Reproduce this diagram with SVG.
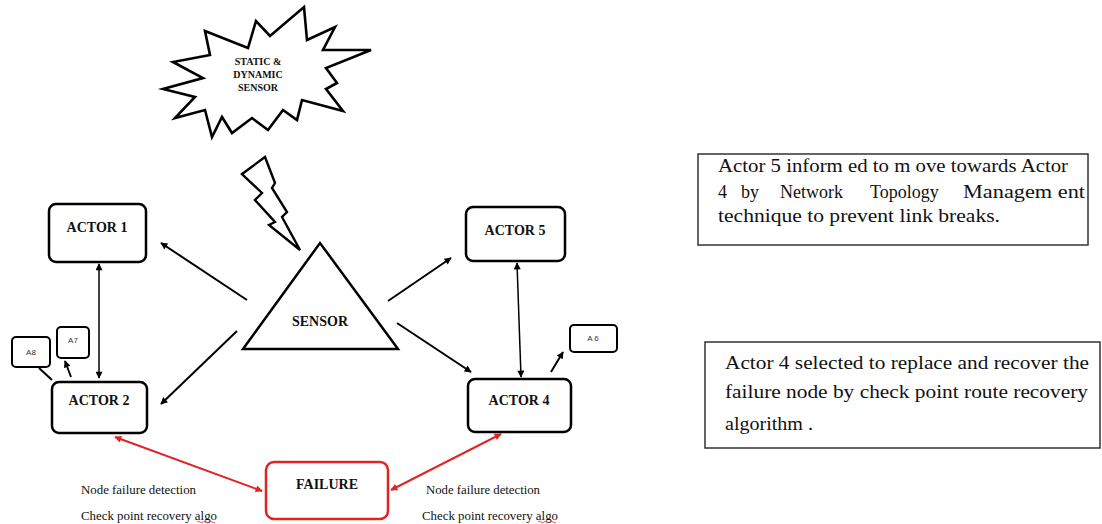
<svg xmlns="http://www.w3.org/2000/svg" width="1102" height="524" viewBox="0 0 1102 524">
<style>
.box{fill:#fff;stroke:#000;stroke-width:2.5}
.small{fill:#fff;stroke:#000;stroke-width:2}
.red{fill:#fff;stroke:#e02424;stroke-width:2.5}
.lbl{font-family:"Liberation Serif","Times New Roman",serif;font-weight:bold;font-size:14px;fill:#111;text-anchor:middle}
.tiny{font-family:"Liberation Sans",Arial,sans-serif;font-size:8px;fill:#333;text-anchor:middle}
.note{font-family:"Liberation Serif","Times New Roman",serif;font-size:12px;fill:#111}
.para{font-family:"Liberation Serif","Times New Roman",serif;fill:#111}
.tb{fill:#fff;stroke:#333;stroke-width:1.5}
.ln{stroke:#000;stroke-width:2;fill:none}
.ln2{stroke:#000;stroke-width:1.5;fill:none}
.rl{stroke:#e02424;stroke-width:2;fill:none}
</style>
<defs>
<marker id="ah" viewBox="0 0 10 10" refX="9" refY="5" markerWidth="8" markerHeight="7" markerUnits="userSpaceOnUse" orient="auto-start-reverse"><path d="M0,0 L10,5 L0,10 z" fill="#000"/></marker>
<marker id="rh" viewBox="0 0 10 10" refX="9" refY="5" markerWidth="9" markerHeight="7" markerUnits="userSpaceOnUse" orient="auto-start-reverse"><path d="M0,0 L10,5 L0,10 z" fill="#e02424"/></marker>
</defs>

<g id="static-dynamic-sensor">
<polygon fill="#fff" stroke="#000" stroke-width="2.6" stroke-linejoin="miter" points="205,31 248,48 256,21 270,36 304,7 307,40 335,27 323,50 371,50 326,68 337,83 326,89 343,111 302,100 297,120 283,110 268,130 252,118 232,133 222,117 212,137 205,110 175,118 195,97 163,89 203,78 173,62 210,55"/>
<text class="lbl" style="font-size:10px" x="258" y="65">STATIC &amp;</text>
<text class="lbl" style="font-size:10px" x="258" y="78">DYNAMIC</text>
<text class="lbl" style="font-size:10px" x="258" y="91">SENSOR</text>
</g>

<g id="lightning">
<polygon fill="#fff" stroke="#000" stroke-width="2.4" points="242,174 265,157 275,183 272,188 287,212 282,217 300,250 269,225 275,222 255,200 262,193"/>
</g>

<g id="sensor">
<polygon fill="#fff" stroke="#000" stroke-width="2.5" points="243,349 320,243 398,349"/>
<text class="lbl" x="320" y="326">SENSOR</text>
</g>

<g id="actor1"><rect class="box" x="49" y="204" width="97" height="58" rx="7"/><text class="lbl" x="97" y="232">ACTOR 1</text></g>
<g id="actor2"><rect class="box" x="52" y="382" width="95" height="51" rx="7"/><text class="lbl" x="99" y="405">ACTOR 2</text></g>
<g id="actor5"><rect class="box" x="466" y="207" width="99" height="54" rx="7"/><text class="lbl" x="515" y="235">ACTOR 5</text></g>
<g id="actor4"><rect class="box" x="468" y="379" width="103" height="53" rx="7"/><text class="lbl" x="519" y="405">ACTOR 4</text></g>
<g id="a8"><rect class="small" x="12" y="337" width="38" height="30" rx="4"/><text class="tiny" x="31" y="355">A8</text></g>
<g id="a7"><rect class="small" x="57" y="327" width="32" height="31" rx="4"/><text class="tiny" x="73" y="343">A7</text></g>
<g id="a6"><rect class="small" x="570" y="325" width="47" height="27" rx="4"/><text class="tiny" x="593" y="341">A 6</text></g>
<g id="failure"><rect class="red" x="266" y="462" width="122" height="57" rx="8"/><text class="lbl" x="327" y="489">FAILURE</text></g>

<g id="connectors">
<line class="ln" x1="247" y1="300" x2="161" y2="243" marker-end="url(#ah)"/>
<line class="ln" x1="237" y1="331" x2="161" y2="404" marker-end="url(#ah)"/>
<line class="ln" x1="388" y1="301" x2="451" y2="258" marker-end="url(#ah)"/>
<line class="ln" x1="397" y1="323" x2="471" y2="372" marker-end="url(#ah)"/>
<line class="ln2" x1="99" y1="264" x2="99" y2="378" marker-start="url(#ah)" marker-end="url(#ah)"/>
<line class="ln2" x1="517" y1="263" x2="521" y2="377" marker-start="url(#ah)" marker-end="url(#ah)"/>
<line class="ln" x1="71" y1="377" x2="65" y2="361" marker-end="url(#ah)"/>
<line class="ln" x1="39" y1="368" x2="52" y2="380"/>
<line class="ln" x1="551" y1="372" x2="563" y2="352" marker-end="url(#ah)"/>
<line class="rl" x1="115" y1="437" x2="262" y2="491" marker-start="url(#rh)" marker-end="url(#rh)"/>
<line class="rl" x1="391" y1="490" x2="501" y2="434" marker-start="url(#rh)" marker-end="url(#rh)"/>
</g>

<g id="notes">
<text class="note" x="81" y="494" textLength="115" lengthAdjust="spacingAndGlyphs">Node failure detection</text>
<text class="note" x="81" y="520" textLength="136" lengthAdjust="spacingAndGlyphs">Check point recovery algo</text>
<text class="note" x="426" y="494" textLength="114" lengthAdjust="spacingAndGlyphs">Node failure detection</text>
<text class="note" x="422" y="520" textLength="136" lengthAdjust="spacingAndGlyphs">Check point recovery algo</text>
<path d="M197,522 q1.5,-1.5 3,0 t3,0 t3,0 t3,0 t3,0 t3,0" stroke="#e02424" stroke-width="0.8" fill="none"/>
<path d="M538,522 q1.5,-1.5 3,0 t3,0 t3,0 t3,0 t3,0 t3,0" stroke="#e02424" stroke-width="0.8" fill="none"/>
</g>

<g id="textbox1">
<rect class="tb" x="698" y="154" width="390" height="91"/>
<text class="para" font-size="18" x="718" y="172" textLength="350" lengthAdjust="spacingAndGlyphs">Actor 5 inform ed to m ove towards Actor</text>
<text class="para" font-size="18" y="198"><tspan x="718">4</tspan><tspan x="741">by</tspan><tspan x="780">Network</tspan><tspan x="870">Topology</tspan><tspan x="963" textLength="122" lengthAdjust="spacingAndGlyphs">Managem ent</tspan></text>
<text class="para" font-size="18" x="718" y="222" textLength="282" lengthAdjust="spacingAndGlyphs">technique to prevent link breaks.</text>
</g>

<g id="textbox2">
<rect class="tb" x="705" y="342" width="395" height="106"/>
<text class="para" font-size="18.5" x="725" y="369" textLength="364" lengthAdjust="spacingAndGlyphs">Actor 4  selected to replace and recover the</text>
<text class="para" font-size="18.5" x="725" y="398" textLength="363" lengthAdjust="spacingAndGlyphs">failure node by check point route recovery</text>
<text class="para" font-size="18.5" x="725" y="430" textLength="88" lengthAdjust="spacingAndGlyphs">algorithm .</text>
</g>
</svg>
